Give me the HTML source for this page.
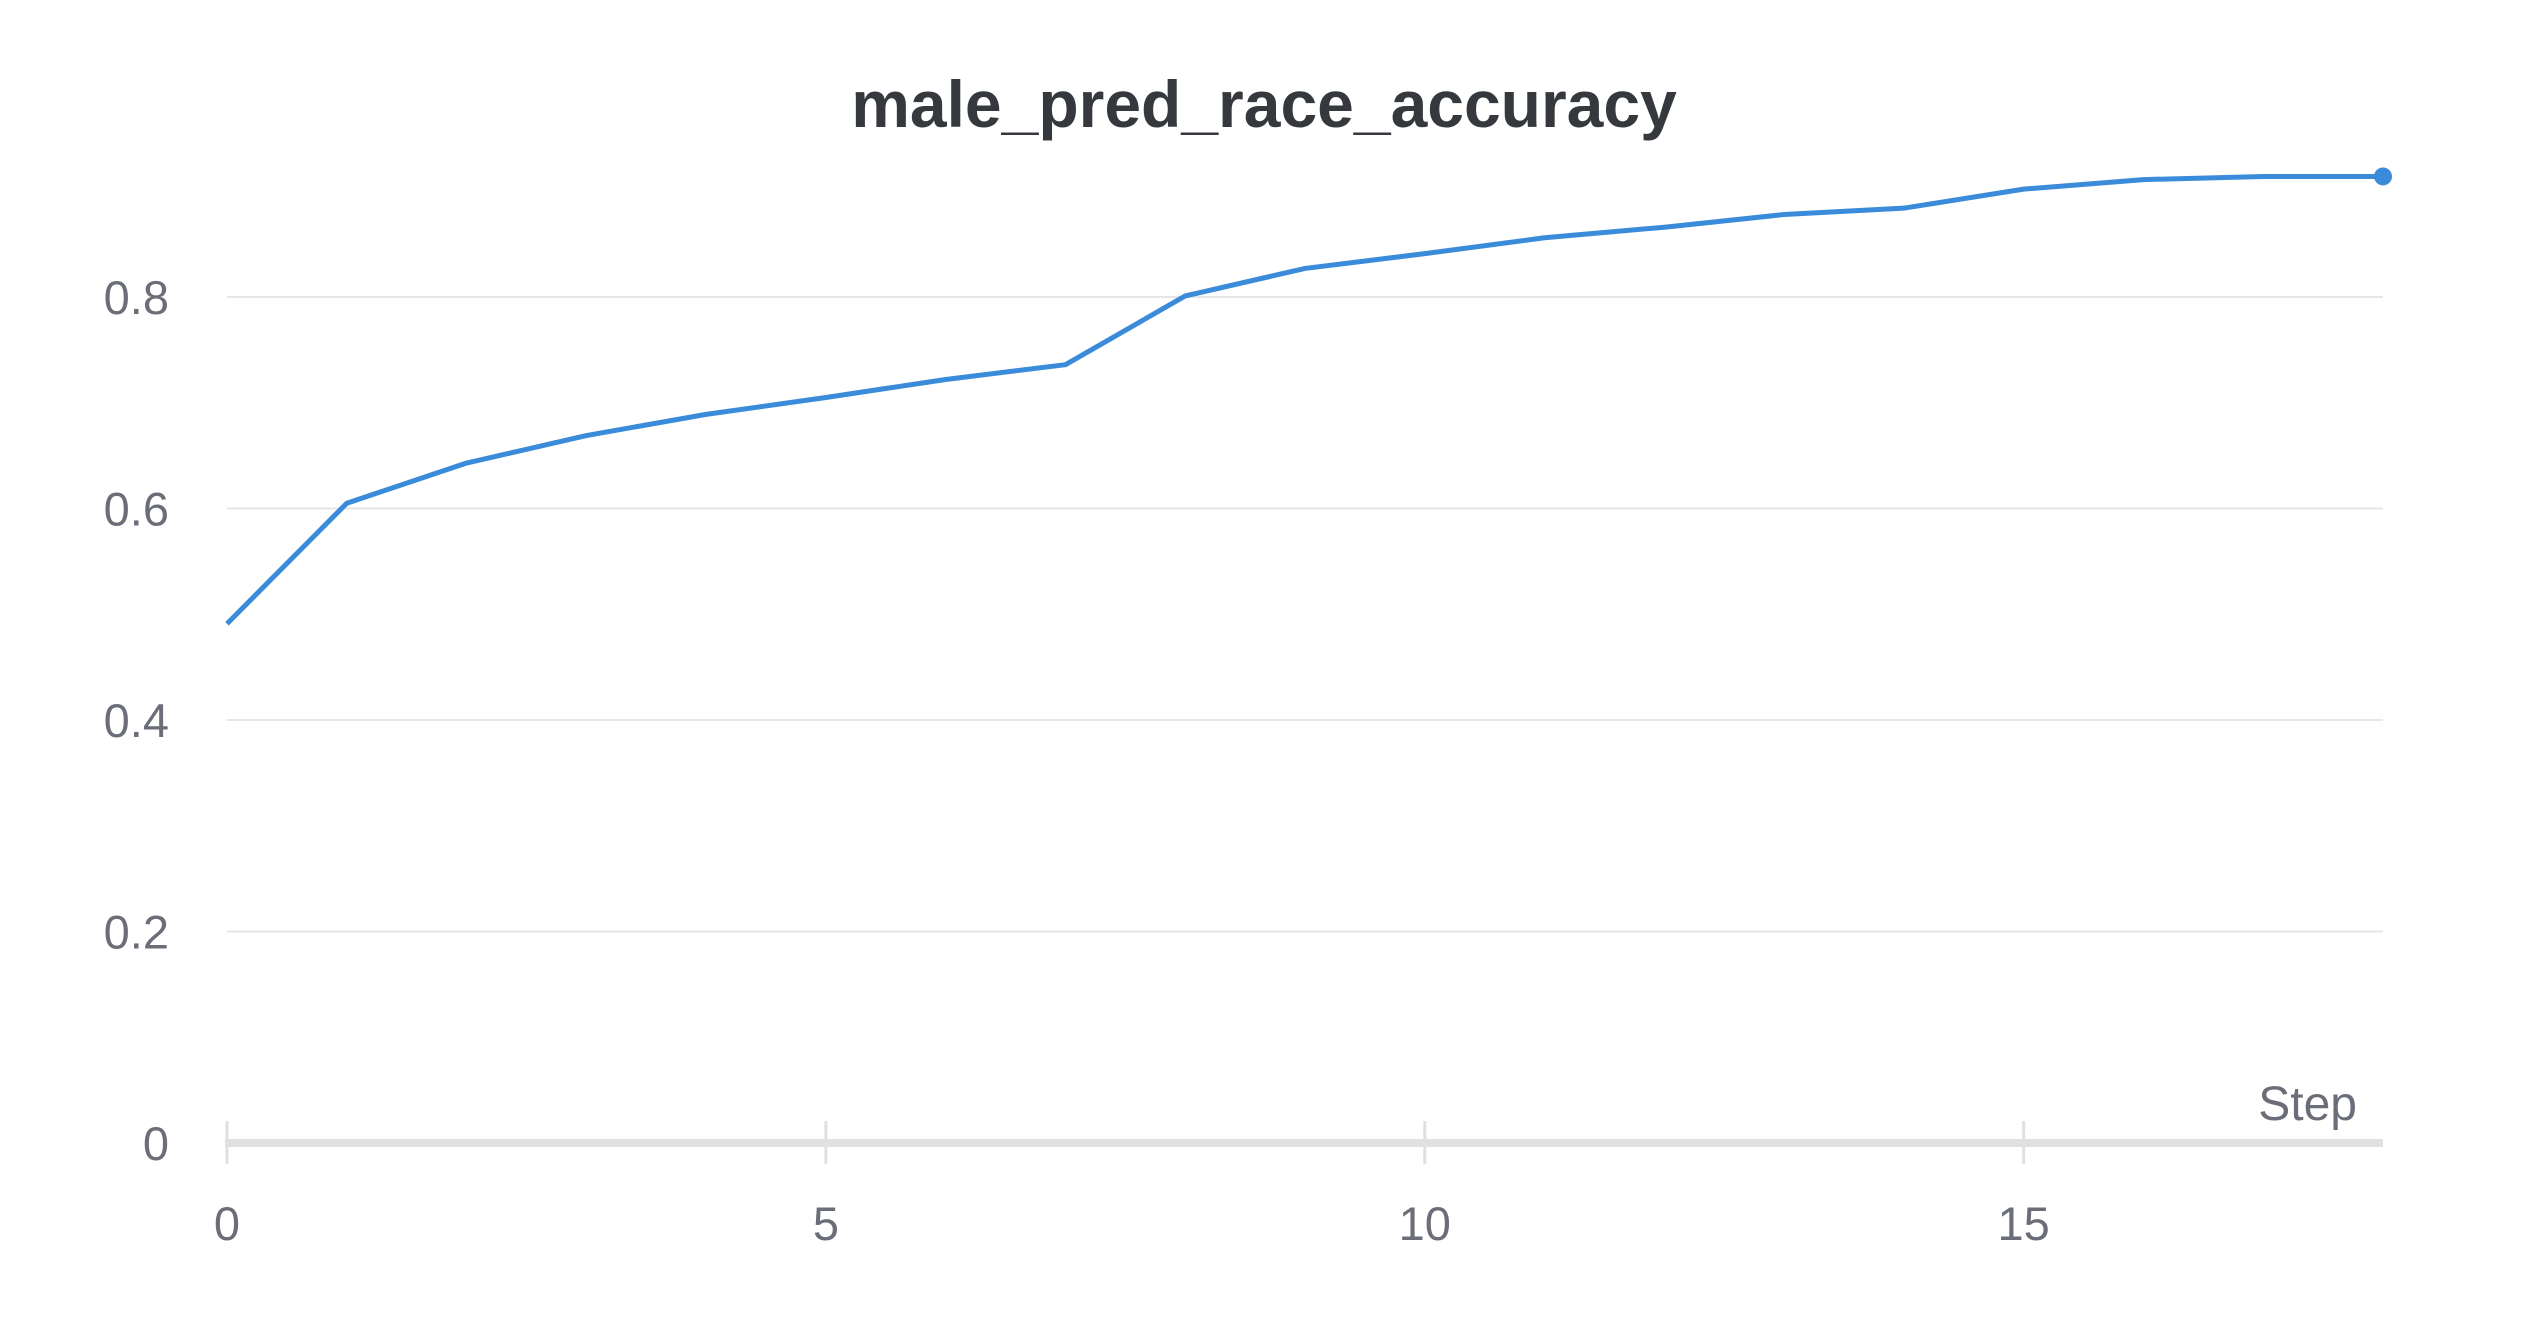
<!DOCTYPE html>
<html><head><meta charset="utf-8"><style>
html,body{margin:0;padding:0;background:#fff;}
svg{display:block;font-family:"Liberation Sans",sans-serif;}
</style></head><body>
<svg id="chart" width="2528" height="1328" viewBox="0 0 2528 1328" xmlns="http://www.w3.org/2000/svg">
<text x="1264" y="127" text-anchor="middle" font-size="66" font-weight="bold" fill="#35383d">male_pred_race_accuracy</text>
<g id="grid"></g>
<g id="axes"></g>
<g id="series"></g>
</svg>
<script>
const steps = [0,1,2,3,4,5,6,7,8,9,10,11,12,13,14,15,16,17,18];
const accuracy = [0.491,0.605,0.643,0.669,0.689,0.705,0.722,0.736,0.801,0.827,0.841,0.856,0.866,0.878,0.884,0.902,0.911,0.914,0.914];
const yTicks = [0,0.2,0.4,0.6,0.8];
const yTickLabels = ["0","0.2","0.4","0.6","0.8"];
const xTicks = [0,5,10,15];
const xTickLabels = ["0","5","10","15"];

const NS="http://www.w3.org/2000/svg";
const X0=227,X1=2383,XMAX=18,Y0=1143,YPER=(1143-297)/0.8;
const xs=v=>X0+(X1-X0)*v/XMAX;
const ys=v=>Y0-v*YPER;
function mk(tag,attrs,parent){const e=document.createElementNS(NS,tag);for(const k in attrs)e.setAttribute(k,attrs[k]);parent.appendChild(e);return e;}
const grid=document.getElementById('grid'),axes=document.getElementById('axes'),series=document.getElementById('series');

yTicks.forEach((t,i)=>{
  if(t!==0){
    const l=mk('line',{x1:X0,x2:X1,y1:ys(t),y2:ys(t),stroke:'#e6e6e6','stroke-width':2},grid);
    
    
  }
  const tx=mk('text',{x:169,y:ys(t)+17,'text-anchor':'end','font-size':47,fill:'#6b6e78'},axes);
  tx.textContent=yTickLabels[i];
  
  
});
const ax=mk('line',{x1:X0-2,x2:X1,y1:Y0,y2:Y0,stroke:'#e0e0e0','stroke-width':8},axes);


xTicks.forEach((t,i)=>{
  const tk=mk('line',{x1:xs(t),x2:xs(t),y1:1121,y2:1164,stroke:'#e0e0e0','stroke-width':3},axes);
  
  
  const tx=mk('text',{x:xs(t),y:1240,'text-anchor':'middle','font-size':47,fill:'#6b6e78'},axes);
  tx.textContent=xTickLabels[i];
  
  
});
const st=mk('text',{x:2357,y:1120,'text-anchor':'end','font-size':48,fill:'#6b6e78'},axes);
st.textContent='Step';



const pts=steps.map((s,i)=>xs(s)+','+ys(accuracy[i])).join(' ');
const pl=mk('polyline',{points:pts,fill:'none',stroke:'#3a8bd9','stroke-width':5,'stroke-linejoin':'round'},series);


const last=steps.length-1;
const dot=mk('circle',{cx:xs(steps[last]),cy:ys(accuracy[last]),r:9,fill:'#3a8bd9'},series);


</script>
</body></html>
